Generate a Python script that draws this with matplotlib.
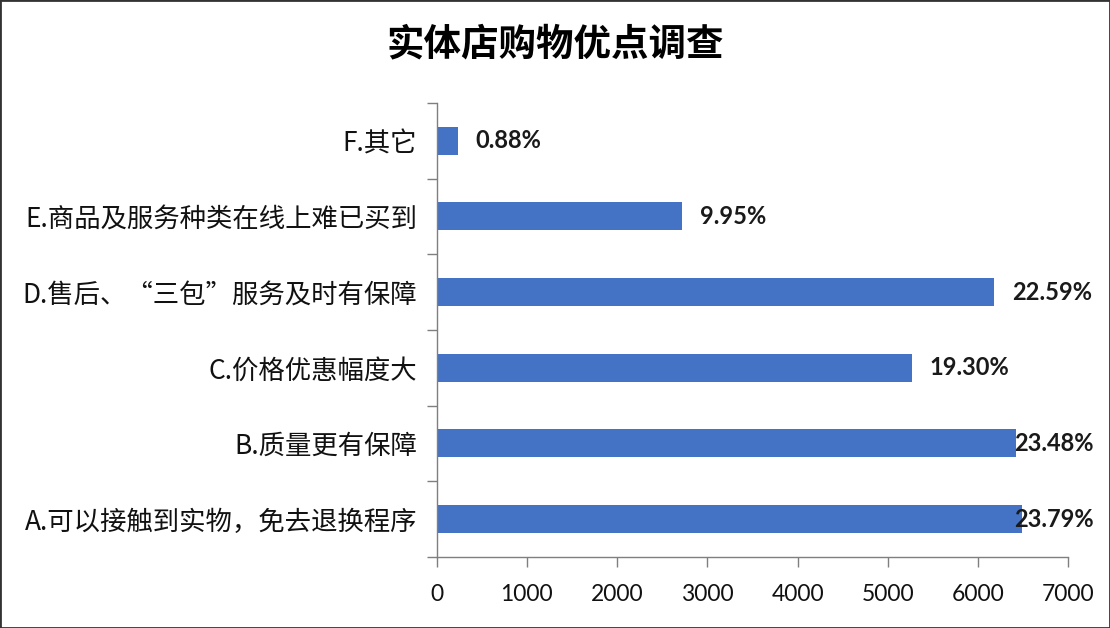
import matplotlib.pyplot as plt
from matplotlib.patches import Rectangle

plt.rcParams['font.family'] = ['Noto Sans CJK SC', 'DejaVu Sans']

# categories, bottom to top
categories = ['A.可以接触到实物，免去退换程序', 'B.质量更有保障', 'C.价格优惠幅度大',
              'D.售后、“三包”服务及时有保障', 'E.商品及服务种类在线上难已买到', 'F.其它']
counts = [6484, 6418, 5266, 6178, 2718, 234]
pct_labels = ['23.79%', '23.48%', '19.30%', '22.59%', '9.95%', '0.88%']
xticks = [0, 1000, 2000, 3000, 4000, 5000, 6000, 7000]

fig = plt.figure(figsize=(11.1, 6.28), dpi=100)
ax = fig.add_axes([0.3934, 0.1131, 0.569, 0.7229])

y = range(len(categories))
ax.barh(y, counts, height=0.37, color='#4472C4', zorder=2)

for yi, v, lab in zip(y, counts, pct_labels):
    ax.text(min(v + 200, 6405), yi, lab, ha='left', va='center',
            fontsize=17, fontweight='bold', family=['Lato', 'DejaVu Sans'],
            color='#1a1a1a', zorder=3)

ax.set_xlim(0, 7000)
ax.set_ylim(-0.5, len(categories) - 0.5)
ax.set_xticks(xticks)
ax.set_xticklabels([str(t) for t in xticks], family=['Lato', 'DejaVu Sans'], fontsize=16.5)

# category labels between boundary ticks
ax.set_yticks(list(y))
ax.set_yticklabels(categories, fontsize=19)
ax.tick_params(axis='y', which='major', length=0, pad=14, colors='#111111')
ax.set_yticks([i - 0.5 for i in range(len(categories) + 1)], minor=True)
ax.tick_params(axis='y', which='minor', length=7.5, width=1, color='#7f7f7f', direction='out')
ax.tick_params(axis='x', length=7.5, width=1, color='#7f7f7f', pad=12, labelcolor='#111111')

for s in ['top', 'right']:
    ax.spines[s].set_visible(False)
for s in ['left', 'bottom']:
    ax.spines[s].set_color('#7f7f7f')
    ax.spines[s].set_linewidth(1)

fig.text(0.5, 0.930, '实体店购物优点调查', ha='center', va='center',
         fontsize=27, fontweight='bold', color='#000000')

fig.patches.append(Rectangle((0, 0), 1, 1, transform=fig.transFigure, fill=False,
                             edgecolor='#333333', linewidth=2))

fig.savefig('out.png', dpi=100)
